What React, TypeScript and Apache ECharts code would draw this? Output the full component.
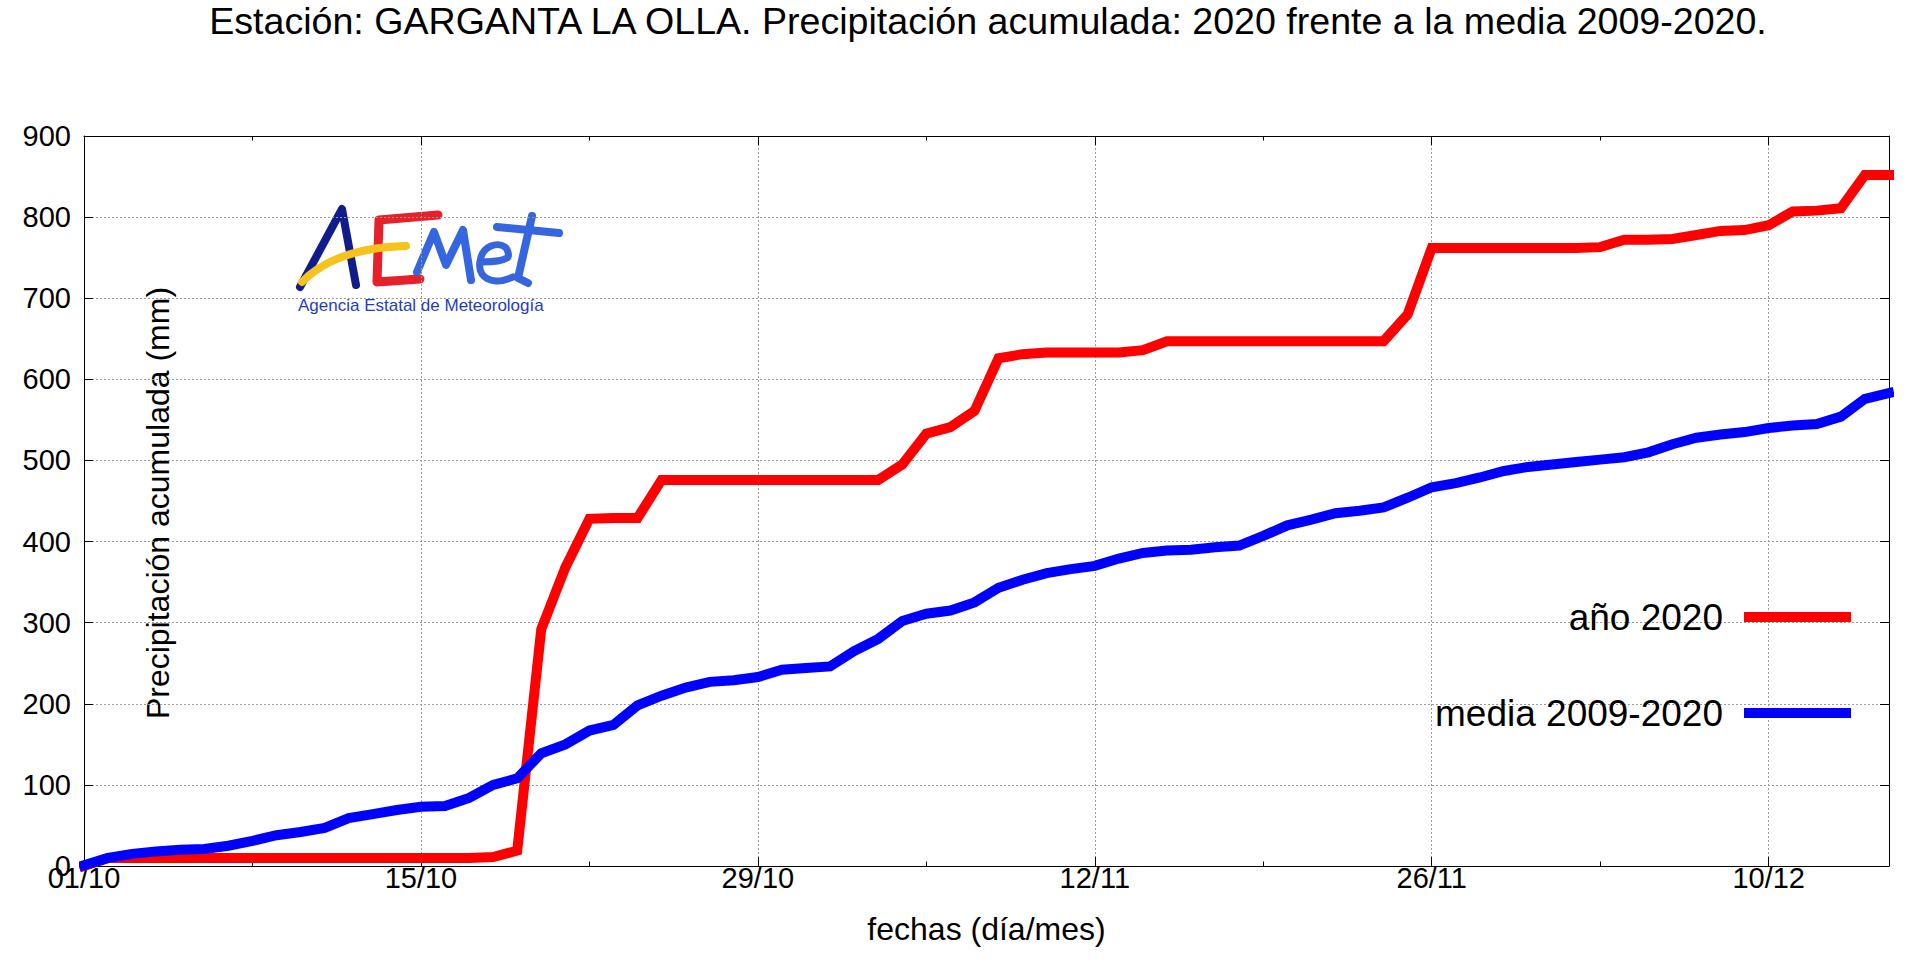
import React, { useEffect, useRef } from "react";
import * as echarts from "echarts";

const titulo =
  "Estación: GARGANTA LA OLLA. Precipitación acumulada: 2020 frente a la media 2009-2020.";
const nombreEjeX = "fechas (día/mes)";
const nombreEjeY = "Precipitación acumulada (mm)";
const nombresSeries = ["año 2020", "media 2009-2020"];
const logoSubtitulo = "Agencia Estatal de Meteorología";

const fechas = [
  "01/10", "02/10", "03/10", "04/10", "05/10", "06/10", "07/10", "08/10", "09/10", "10/10",
  "11/10", "12/10", "13/10", "14/10", "15/10", "16/10", "17/10", "18/10", "19/10", "20/10",
  "21/10", "22/10", "23/10", "24/10", "25/10", "26/10", "27/10", "28/10", "29/10", "30/10",
  "31/10",
  "01/11", "02/11", "03/11", "04/11", "05/11", "06/11", "07/11", "08/11", "09/11", "10/11",
  "11/11", "12/11", "13/11", "14/11", "15/11", "16/11", "17/11", "18/11", "19/11", "20/11",
  "21/11", "22/11", "23/11", "24/11", "25/11", "26/11", "27/11", "28/11", "29/11", "30/11",
  "01/12", "02/12", "03/12", "04/12", "05/12", "06/12", "07/12", "08/12", "09/12", "10/12",
  "11/12", "12/12", "13/12", "14/12", "15/12",
];

const anio2020 = [
  0, 10, 10, 10, 10, 10, 10, 10, 10, 10,
  10, 10, 10, 10, 10, 10, 10, 11, 19, 292,
  368, 428, 429, 429, 476, 476, 476, 476, 476, 476,
  476, 476, 476, 476, 495, 533, 541, 561, 626, 631,
  633, 633, 633, 633, 636, 647, 647, 647, 647, 647,
  647, 647, 647, 647, 647, 680, 762, 762, 762, 762,
  762, 762, 762, 763, 772, 772, 773, 778, 783, 784,
  790, 807, 808, 811, 852, 852,
];

const media0920 = [
  1, 10, 15, 18, 20, 21, 25, 31, 38, 42,
  47, 59, 64, 69, 73, 74, 84, 100, 108, 139,
  150, 167, 174, 198, 210, 220, 227, 229, 233, 242,
  244, 246, 265, 280, 302, 311, 315, 325, 343, 353,
  361, 366, 370, 379, 386, 389, 390, 393, 395, 407,
  420, 427, 435, 438, 442, 454, 467, 472, 479, 487,
  492, 495, 498, 501, 504, 510, 520, 528, 532, 535,
  540, 543, 545, 554, 576, 583,
];

const FONT = "Liberation Sans, Arial, Helvetica, sans-serif";
const GRID_LINE = { color: "#9a9a9a", width: 1, type: [2, 2] as number[] };
const BLACK = { color: "#000", width: 1 };

function catAxis(position: "top" | "bottom", major: boolean, showLine: boolean, labels: boolean) {
  return {
    type: "category",
    data: fechas,
    boundaryGap: false,
    position,
    axisLine: { show: showLine, lineStyle: BLACK },
    axisTick: {
      show: true,
      inside: true,
      length: major ? 9 : 4.5,
      interval: major ? 13 : 6,
      lineStyle: BLACK,
    },
    axisLabel: labels
      ? {
          show: true,
          interval: 13,
          fontSize: 29,
          color: "#000",
          fontFamily: FONT,
          margin: 12,
          verticalAlign: "middle",
        }
      : { show: false },
    splitLine: labels
      ? { show: true, interval: 13, showMinLine: false, lineStyle: GRID_LINE }
      : { show: false },
  };
}

function legendFor(name: string, top: number) {
  return {
    data: [name],
    right: 64,
    top,
    orient: "horizontal",
    align: "right",
    icon: "rect",
    itemWidth: 107,
    itemHeight: 10,
    selectedMode: false,
    itemStyle: { borderWidth: 0 },
    textStyle: {
      fontSize: 37,
      color: "#000",
      fontFamily: FONT,
      padding: [0, 16, 16, 0],
    },
  };
}

const AZUL_LOGO = "#3566e0";

const option = {
  animation: false,
  backgroundColor: "#fff",
  textStyle: { fontFamily: FONT },
  title: {
    text: titulo,
    left: 988,
    top: 0,
    textAlign: "center",
    padding: [2, 0, 0, 0],
    textStyle: { fontSize: 37.6, fontWeight: "normal", color: "#000", fontFamily: FONT },
  },
  grid: { left: 84, right: 31, top: 136, bottom: 96, containLabel: false },
  legend: [legendFor(nombresSeries[0], 593.5), legendFor(nombresSeries[1], 689.5)],
  xAxis: [
    {
      ...catAxis("bottom", true, false, true),
      name: nombreEjeX,
      nameLocation: "middle",
      nameGap: 63,
      nameTextStyle: { fontSize: 32, color: "#000", fontFamily: FONT, verticalAlign: "middle" },
    },
    catAxis("bottom", false, true, false),
    catAxis("top", true, true, false),
    catAxis("top", false, false, false),
  ],
  yAxis: [
    {
      type: "value",
      min: 0,
      max: 900,
      interval: 100,
      position: "left",
      axisLine: { show: true, lineStyle: BLACK },
      axisTick: { show: true, inside: true, length: 9, lineStyle: BLACK },
      axisLabel: {
        fontSize: 29,
        color: "#000",
        fontFamily: FONT,
        margin: 13,
        padding: [0, 0, 11, 0],
      },
      splitLine: { show: true, showMinLine: false, showMaxLine: false, lineStyle: GRID_LINE },
    },
    {
      type: "value",
      min: 0,
      max: 900,
      interval: 100,
      position: "right",
      axisLine: { show: true, lineStyle: BLACK },
      axisTick: { show: true, inside: true, length: 9, lineStyle: BLACK },
      axisLabel: { show: false },
      splitLine: { show: false },
    },
  ],
  series: [
    {
      type: "line",
      name: nombresSeries[0],
      data: anio2020,
      xAxisIndex: 0,
      yAxisIndex: 0,
      symbol: "none",
      showSymbol: false,
      clip: false,
      z: 3,
      itemStyle: { color: "#ff0000" },
      lineStyle: { color: "#ff0000", width: 10, cap: "square", join: "miter" },
    },
    {
      type: "line",
      name: nombresSeries[1],
      data: media0920,
      xAxisIndex: 0,
      yAxisIndex: 0,
      symbol: "none",
      showSymbol: false,
      clip: false,
      z: 4,
      itemStyle: { color: "#0000ff" },
      lineStyle: { color: "#0000ff", width: 10, cap: "square", join: "miter" },
    },
  ],
  graphic: [
    {
      type: "text",
      x: 158,
      y: 503,
      rotation: Math.PI / 2,
      style: {
        text: nombreEjeY,
        fontSize: 32,
        fontFamily: FONT,
        fill: "#000",
        align: "center",
        verticalAlign: "middle",
      },
    },
    {
      type: "group",
      z: 10,
      children: [
        { type: "rect", shape: { x: 281, y: 200, width: 296, height: 122 }, style: { fill: "#fff" } },
        {
          type: "polyline",
          shape: { points: [[300, 287], [342, 209], [356, 285]] },
          style: { stroke: "#101c8c", lineWidth: 8, fill: "none", lineCap: "round", lineJoin: "round" },
        },
        {
          type: "polyline",
          shape: { points: [[438, 215], [379, 220], [377, 282], [420, 279]] },
          style: { stroke: "#e8202a", lineWidth: 9, fill: "none", lineCap: "round", lineJoin: "round" },
        },
        {
          type: "bezierCurve",
          shape: { x1: 302, y1: 282, cpx1: 335, cpy1: 248, x2: 406, y2: 246 },
          style: { stroke: "#f8c21c", lineWidth: 8, fill: "none", lineCap: "round" },
        },
        {
          type: "polyline",
          shape: { points: [[417, 272], [434, 232], [446, 265], [463, 230], [471, 280]] },
          style: { stroke: AZUL_LOGO, lineWidth: 8, fill: "none", lineCap: "round", lineJoin: "round" },
        },
        {
          type: "polyline",
          shape: {
            points: [[480, 262], [507, 258], [505, 247], [491, 246], [481, 257], [482, 274], [496, 281], [513, 277]],
            smooth: 0.4,
          },
          style: { stroke: AZUL_LOGO, lineWidth: 7, fill: "none", lineCap: "round", lineJoin: "round" },
        },
        {
          type: "polyline",
          shape: { points: [[532, 216], [518, 278], [528, 283]] },
          style: { stroke: AZUL_LOGO, lineWidth: 8, fill: "none", lineCap: "round", lineJoin: "round" },
        },
        {
          type: "line",
          shape: { x1: 497, y1: 227, x2: 559, y2: 233 },
          style: { stroke: AZUL_LOGO, lineWidth: 8, lineCap: "round" },
        },
        {
          type: "text",
          x: 298,
          y: 305,
          style: {
            text: logoSubtitulo,
            fontSize: 17,
            fontFamily: FONT,
            fill: "#1e3cc8",
            align: "left",
            verticalAlign: "middle",
          },
        },
      ],
    },
  ],
};

export default function App() {
  const ref = useRef<HTMLDivElement>(null);
  useEffect(() => {
    if (!ref.current) return;
    const chart = echarts.init(ref.current, null, { renderer: "svg" });
    chart.setOption(option as any);
    return () => chart.dispose();
  }, []);
  return (
    <div
      ref={ref}
      style={{ position: "fixed", left: 0, top: 0, width: 1920, height: 962, background: "#fff" }}
    />
  );
}
